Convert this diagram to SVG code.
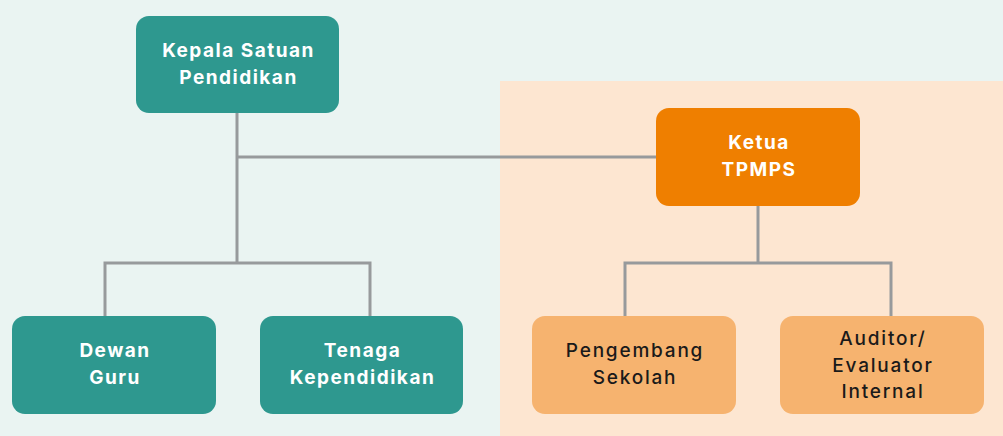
<svg xmlns="http://www.w3.org/2000/svg" width="1003" height="436" viewBox="0 0 1003 436">
  <style>
    .teal { fill: #2e988f; }
    .lead { fill: #ef7f00; }
    .soft { fill: #f6b36f; }
    .wt { fill: #ffffff; font-family: Inter, "Noto Sans", "Liberation Sans", sans-serif; font-weight: 700; font-size: 19px; letter-spacing: 1.5px; text-anchor: middle; }
    .dt { fill: #1a1a1a; font-family: Inter, "Noto Sans", "Liberation Sans", sans-serif; font-weight: 500; font-size: 19px; letter-spacing: 1.8px; text-anchor: middle; }
    .conn { fill: none; stroke: #979a9c; stroke-width: 3; }
  </style>
  <rect x="0" y="0" width="1003" height="436" fill="#eaf4f2"/>
  <rect x="500" y="81" width="503" height="355" fill="#fde6d1"/>
  <g id="connectors">
    <path class="conn" d="M237 113 V263"/>
    <path class="conn" d="M237 157 H656"/>
    <path class="conn" d="M105 316 V263 H370 V316"/>
    <path class="conn" d="M758 206 V263"/>
    <path class="conn" d="M625 316 V263 H891 V316"/>
  </g>
  <g id="kepala">
    <rect class="teal" x="136" y="16" width="203" height="97" rx="13"/>
    <text class="wt" x="238.5" y="57">Kepala Satuan</text>
    <text class="wt" x="238.5" y="84">Pendidikan</text>
  </g>
  <g id="ketua">
    <rect class="lead" x="656" y="108" width="204" height="98" rx="13"/>
    <text class="wt" x="759" y="149">Ketua</text>
    <text class="wt" x="759" y="176">TPMPS</text>
  </g>
  <g id="dewan">
    <rect class="teal" x="12" y="316" width="204" height="98" rx="13"/>
    <text class="wt" x="115" y="357">Dewan</text>
    <text class="wt" x="115" y="384">Guru</text>
  </g>
  <g id="tenaga">
    <rect class="teal" x="260" y="316" width="203" height="98" rx="13"/>
    <text class="wt" x="362.5" y="357">Tenaga</text>
    <text class="wt" x="362.5" y="384">Kependidikan</text>
  </g>
  <g id="pengembang">
    <rect class="soft" x="532" y="316" width="204" height="98" rx="13"/>
    <text class="dt" x="635" y="357">Pengembang</text>
    <text class="dt" x="635" y="384">Sekolah</text>
  </g>
  <g id="auditor">
    <rect class="soft" x="780" y="316" width="204" height="98" rx="13"/>
    <text class="dt" x="883" y="345">Auditor/</text>
    <text class="dt" x="883" y="372">Evaluator</text>
    <text class="dt" x="883" y="398">Internal</text>
  </g>
</svg>
